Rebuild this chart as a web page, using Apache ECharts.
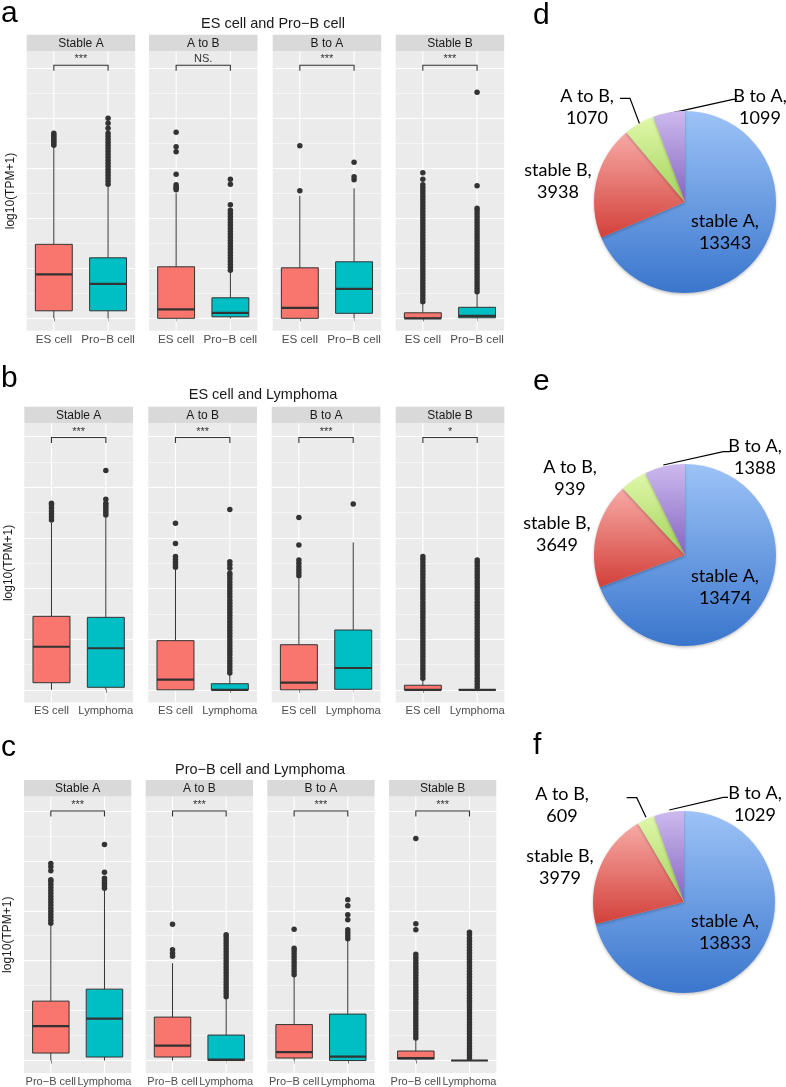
<!DOCTYPE html>
<html><head><meta charset="utf-8">
<script src="https://cdn.jsdelivr.net/npm/echarts@6/dist/echarts.min.js"></script>
<style>html,body{margin:0;padding:0;background:#fff}#chart{width:786px;height:1087px}</style>
</head><body><div id="chart"></div>
<script>
// ---------------- DATA ----------------
const rowTitles = ['ES cell and Pro\u2212B cell', 'ES cell and Lymphoma', 'Pro\u2212B cell and Lymphoma'];
const facets = ['Stable A', 'A to B', 'B to A', 'Stable B'];
const groupsA = ['ES cell', 'Pro\u2212B cell'];
const groupsB = ['ES cell', 'Lymphoma'];
const groupsC = ['Pro\u2212B cell', 'Lymphoma'];
const sigA = ['***', 'NS.', '***', '***'];
const sigB = ['***', '***', '***', '*'];
const sigC = ['***', '***', '***', '***'];
const bracketLevels = [5.06, 4.98, 5.0];
const yAxisName = 'log10(TPM+1)';

// box stats per facet per group: [lower whisker, Q1, median, Q3, upper whisker]
const boxA = [
  [[0, 0.15, 0.88, 1.48, 3.42], [0, 0.15, 0.69, 1.21, 2.65]],
  [[0, 0, 0.18, 1.03, 2.5], [0, 0.03, 0.11, 0.41, 0.93]],
  [[0, 0, 0.21, 1.01, 2.45], [0, 0.1, 0.59, 1.13, 2.6]],
  [[0, 0, 0, 0.11, 0.3], [0, 0.01, 0.05, 0.22, 0.5]]
];
const boxB = [
  [[0, 0.14, 0.85, 1.45, 3.3], [0, 0.05, 0.82, 1.43, 3.4]],
  [[0, 0, 0.2, 0.97, 2.37], [0, 0, 0, 0.12, 0.3]],
  [[0, 0, 0.14, 0.89, 2.2], [0, 0.01, 0.43, 1.18, 2.91]],
  [[0, 0, 0, 0.09, 0.2], [0, 0, 0, 0, 0]]
];
const boxC = [
  [[0, 0.15, 0.69, 1.19, 2.7], [0, 0.07, 0.84, 1.43, 3.4]],
  [[0, 0.07, 0.3, 0.87, 1.95], [0, 0, 0.02, 0.51, 1.25]],
  [[0, 0.05, 0.17, 0.72, 1.69], [0, 0, 0.08, 0.93, 2.4]],
  [[0, 0.03, 0.05, 0.19, 0.42], [0, 0, 0, 0, 0]]
];

// outliers per facet per group
const outA = [
  [[3.46, 3.5, 3.54, 3.58, 3.62, 3.66, 3.7],
   [2.68, 2.74, 2.8, 2.86, 2.92, 2.98, 3.04, 3.1, 3.16, 3.22, 3.28, 3.34, 3.4, 3.46, 3.52, 3.58, 3.64, 3.7, 3.8, 3.9, 4.0]],
  [[2.57, 2.6, 2.63, 2.67, 2.88, 3.33, 3.43, 3.72],
   [0.96, 1.02, 1.08, 1.14, 1.2, 1.26, 1.32, 1.38, 1.44, 1.5, 1.56, 1.62, 1.68, 1.74, 1.8, 1.86, 1.92, 1.98, 2.04, 2.1, 2.16, 2.27, 2.68, 2.78]],
  [[2.55, 3.45],
   [2.77, 2.83, 3.12]],
  [[0.33, 0.39, 0.45, 0.51, 0.57, 0.63, 0.69, 0.75, 0.81, 0.87, 0.93, 0.99, 1.05, 1.11, 1.17, 1.23, 1.29, 1.35, 1.41, 1.47, 1.53, 1.59, 1.65, 1.71, 1.77, 1.83, 1.89, 1.95, 2.01, 2.07, 2.13, 2.19, 2.25, 2.31, 2.37, 2.43, 2.49, 2.55, 2.61, 2.67, 2.78, 2.91],
   [0.53, 0.59, 0.65, 0.71, 0.77, 0.83, 0.89, 0.95, 1.01, 1.07, 1.13, 1.19, 1.25, 1.31, 1.37, 1.43, 1.49, 1.55, 1.61, 1.67, 1.73, 1.79, 1.85, 1.91, 1.97, 2.03, 2.09, 2.15, 2.2, 2.65, 4.52]]
];
const outB = [
  [[3.35, 3.41, 3.47, 3.53, 3.59, 3.65, 3.68],
   [3.45, 3.5, 3.55, 3.6, 3.65, 3.68, 3.76, 4.33]],
  [[2.42, 2.47, 2.52, 2.57, 2.63, 2.89, 3.29],
   [0.33, 0.39, 0.45, 0.51, 0.57, 0.63, 0.69, 0.75, 0.81, 0.87, 0.93, 0.99, 1.05, 1.11, 1.17, 1.23, 1.29, 1.35, 1.41, 1.47, 1.53, 1.59, 1.65, 1.71, 1.77, 1.83, 1.89, 1.95, 2.01, 2.07, 2.13, 2.19, 2.25, 2.3, 2.4, 2.47, 2.53, 3.56]],
  [[2.25, 2.31, 2.37, 2.43, 2.5, 2.56, 2.86, 3.4],
   [3.67]],
  [[0.23, 0.29, 0.35, 0.41, 0.47, 0.53, 0.59, 0.65, 0.71, 0.77, 0.83, 0.89, 0.95, 1.01, 1.07, 1.13, 1.19, 1.25, 1.31, 1.37, 1.43, 1.49, 1.55, 1.61, 1.67, 1.73, 1.79, 1.85, 1.91, 1.97, 2.03, 2.09, 2.15, 2.21, 2.27, 2.33, 2.39, 2.45, 2.51, 2.57, 2.63],
   [0.05, 0.11, 0.17, 0.23, 0.29, 0.35, 0.41, 0.47, 0.53, 0.59, 0.65, 0.71, 0.77, 0.83, 0.89, 0.95, 1.01, 1.07, 1.13, 1.19, 1.25, 1.31, 1.37, 1.43, 1.49, 1.55, 1.61, 1.67, 1.73, 1.79, 1.85, 1.91, 1.97, 2.03, 2.09, 2.15, 2.21, 2.27, 2.33, 2.39, 2.45, 2.51, 2.56]]
];
const outC = [
  [[2.75, 2.81, 2.87, 2.93, 2.99, 3.05, 3.11, 3.17, 3.23, 3.29, 3.35, 3.41, 3.47, 3.53, 3.59, 3.62, 3.8, 3.88, 3.95],
   [3.45, 3.5, 3.55, 3.6, 3.65, 3.77, 4.33]],
  [[2.09, 2.15, 2.22, 2.73],
   [1.28, 1.34, 1.4, 1.46, 1.52, 1.58, 1.64, 1.7, 1.76, 1.82, 1.88, 1.94, 2.0, 2.06, 2.12, 2.18, 2.24, 2.3, 2.36, 2.42, 2.48, 2.52]],
  [[1.72, 1.78, 1.84, 1.9, 1.96, 2.02, 2.08, 2.14, 2.2, 2.25, 2.63],
   [2.44, 2.5, 2.56, 2.62, 2.82, 2.92, 3.1, 3.22]],
  [[0.45, 0.51, 0.57, 0.63, 0.69, 0.75, 0.81, 0.87, 0.93, 0.99, 1.05, 1.11, 1.17, 1.23, 1.29, 1.35, 1.41, 1.47, 1.53, 1.59, 1.65, 1.71, 1.77, 1.83, 1.89, 1.95, 2.01, 2.07, 2.13, 2.62, 2.74, 4.45],
   [0.05, 0.11, 0.17, 0.23, 0.29, 0.35, 0.41, 0.47, 0.53, 0.59, 0.65, 0.71, 0.77, 0.83, 0.89, 0.95, 1.01, 1.07, 1.13, 1.19, 1.25, 1.31, 1.37, 1.43, 1.49, 1.55, 1.61, 1.67, 1.73, 1.79, 1.85, 1.91, 1.97, 2.03, 2.09, 2.15, 2.21, 2.27, 2.33, 2.39, 2.45, 2.52, 2.57]]
];

// pie charts
const pieNames = ['stable A', 'stable B', 'A to B', 'B to A'];
const pieD = [13343, 3938, 1070, 1099];
const pieE = [13474, 3649, 939, 1388];
const pieF = [13833, 3979, 609, 1029];
const panelLetters = ['a', 'b', 'c', 'd', 'e', 'f'];

// ---------------- LAYOUT / STYLE ----------------
const yMin = -0.25;
const rowLayout = [
  {y0: 318.3, unit: 50, max: 5.34, lefts: [26.7, 149, 272.7, 395.7], width: 108.5, titleX: 273, titleY: 24, tickFont: 11.7},
  {y0: 689.8, unit: 50.66, max: 5.26, lefts: [24.3, 148.3, 271.7, 395.7], width: 108.7, titleX: 263, titleY: 395, tickFont: 11.2},
  {y0: 1061, unit: 50, max: 5.29, lefts: [24, 145.7, 267.3, 389], width: 107.3, titleX: 260, titleY: 770, tickFont: 11}
];
const stripH = 16.5;
const fills = ['#F8766D', '#00BFC4'];
const pieCenters = [[685, 202], [685, 555], [684, 902]];
const pieRadius = 91;
// label centres relative to pie centre
const pieLabelOffsets = [
  [[40, 30], [-127, -21], [-98, -95], [75, -95]],
  [[40, 32], [-128, -21], [-115, -77], [70, -97.5]],
  [[41, 30.5], [-124, -35], [-122, -97], [71, -98]]
];
// leader-line bends relative to pie centre (null = no leader line)
const pieLeaders = [
  [null, null, [[-45, -77], [-55, -103.7], [-65, -103.7]], [[-15, -88.7], [48, -102.7], [52, -102.7]]],
  [null, null, null, [[-21.7, -90], [38.3, -103.3], [45, -103.3]]],
  [null, null, [[-38, -84.7], [-47.3, -104.3], [-57.3, -104.3]], [[-14.7, -92], [39.3, -104.7], [44, -104.7]]]
];
const letterPos = [[1, 23], [1, 388], [1, 757], [533, 25], [533, 391], [533, 755]];
const grad = (c0, c1) => ({type: 'linear', x: 0, y: 0, x2: 0, y2: 1, colorStops: [{offset: 0, color: c0}, {offset: 1, color: c1}]});
const pieColors = [grad('#9dc3f7', '#3a76cd'), grad('#f7aaa5', '#d3403a'), grad('#e0f8aa', '#a3d25a'), grad('#cdbaee', '#8465c2')];

const rows = [
  {groups: groupsA, box: boxA, out: outA, sig: sigA},
  {groups: groupsB, box: boxB, out: outB, sig: sigB},
  {groups: groupsC, box: boxC, out: outC, sig: sigC}
];

const grids = [], xAxes = [], yAxes = [], series = [], graphics = [];
const FONT = 'Liberation Sans, Arial, sans-serif';

rows.forEach((row, r) => {
  const L = rowLayout[r];
  const top = L.y0 - L.max * L.unit;
  const height = (L.max - yMin) * L.unit;
  graphics.push({type: 'text', x: L.titleX, y: L.titleY, silent: true,
    style: {text: rowTitles[r], fontSize: 14.5, fontFamily: FONT, fill: '#1a1a1a', align: 'center', verticalAlign: 'middle'}});
  facets.forEach((fname, f) => {
    const gi = r * 4 + f;
    grids.push({left: L.lefts[f], top: top, width: L.width, height: height, show: true, backgroundColor: '#ebebeb', borderWidth: 0, containLabel: false});
    graphics.push({type: 'rect', shape: {x: L.lefts[f], y: top - stripH, width: L.width, height: stripH}, style: {fill: '#d9d9d9'}, silent: true});
    graphics.push({type: 'text', x: L.lefts[f] + L.width / 2, y: top - stripH / 2 + 0.5, silent: true,
      style: {text: fname, fontSize: 12, fontFamily: FONT, fill: '#1a1a1a', align: 'center', verticalAlign: 'middle'}});
    xAxes.push({type: 'category', gridIndex: gi, data: row.groups, boundaryGap: true,
      axisLine: {show: false}, axisTick: {show: true, alignWithLabel: true, length: 3, lineStyle: {color: '#333', width: 1}},
      axisLabel: {color: '#4d4d4d', fontSize: L.tickFont, fontFamily: FONT, margin: 3, interval: 0},
      splitLine: {show: false}});
    yAxes.push({type: 'value', gridIndex: gi, min: yMin, max: L.max, interval: 0.25,
      axisLabel: {show: false}, axisTick: {show: false}, axisLine: {show: false},
      name: f === 0 ? yAxisName : '', nameLocation: 'middle', nameGap: 10,
      nameTextStyle: {fontSize: 12, fontFamily: FONT, color: '#1a1a1a'},
      splitLine: {show: true, showMaxLine: false, lineStyle: {color: ['rgba(0,0,0,0)', '#ffffff', 'rgba(0,0,0,0)', '#f6f6f6'], width: 1.1}}});
    // boxes
    series.push({type: 'custom', xAxisIndex: gi, yAxisIndex: gi, z: 2, silent: true,
      data: row.box[f].map((s, g) => [g].concat(s)),
      encode: {x: 0, y: [1, 2, 3, 4, 5]},
      renderItem: (params, api) => {
        const g = api.value(0);
        const cs = params.coordSys;
        const pLo = api.coord([g, api.value(1)]);
        const pQ1 = api.coord([g, api.value(2)]);
        const pMed = api.coord([g, api.value(3)]);
        const pQ3 = api.coord([g, api.value(4)]);
        const pHi = api.coord([g, api.value(5)]);
        const bw = api.size([1, 0])[0] * 0.68;
        const x = pLo[0];
        return {type: 'group', children: [
          {type: 'line', shape: {x1: x, y1: cs.y, x2: x, y2: cs.y + cs.height}, style: {stroke: '#ffffff', lineWidth: 1.1}},
          {type: 'line', shape: {x1: x, y1: pLo[1], x2: x, y2: pQ1[1]}, style: {stroke: '#333333', lineWidth: 1}},
          {type: 'line', shape: {x1: x, y1: pQ3[1], x2: x, y2: pHi[1]}, style: {stroke: '#333333', lineWidth: 1}},
          {type: 'rect', shape: {x: x - bw / 2, y: pQ3[1], width: bw, height: pQ1[1] - pQ3[1]}, style: {fill: fills[g], stroke: '#333333', lineWidth: 1}},
          {type: 'line', shape: {x1: x - bw / 2, y1: pMed[1], x2: x + bw / 2, y2: pMed[1]}, style: {stroke: '#333333', lineWidth: 2.2}}
        ]};
      }});
    // outliers
    const pts = [];
    row.out[f].forEach((arr, g) => arr.forEach(v => pts.push([g, v])));
    series.push({type: 'scatter', xAxisIndex: gi, yAxisIndex: gi, z: 3, silent: true, symbolSize: 5.5,
      itemStyle: {color: '#333333', opacity: 1}, data: pts});
    // significance bracket
    const sigText = row.sig[f];
    series.push({type: 'custom', xAxisIndex: gi, yAxisIndex: gi, z: 4, silent: true,
      data: [[0, 1, bracketLevels[r]]],
      encode: {x: [0, 1], y: 2},
      renderItem: (params, api) => {
        const yb = api.value(2);
        const p0 = api.coord([api.value(0), yb]);
        const p1 = api.coord([api.value(1), yb]);
        const d = api.coord([api.value(0), yb - 0.11]);
        return {type: 'group', children: [
          {type: 'polyline', shape: {points: [[p0[0], d[1]], [p0[0], p0[1]], [p1[0], p1[1]], [p1[0], d[1]]]}, style: {stroke: '#333333', lineWidth: 1.1, fill: null}},
          {type: 'text', x: (p0[0] + p1[0]) / 2, y: p0[1] - 0.5, style: {text: sigText, fontSize: 11, fontFamily: FONT, fill: '#333333', align: 'center', verticalAlign: 'bottom'}}
        ]};
      }});
  });
});

[pieD, pieE, pieF].forEach((vals, k) => {
  const c = pieCenters[k];
  const offs = pieLabelOffsets[k];
  const leads = pieLeaders[k];
  series.push({type: 'pie', center: c, radius: pieRadius, startAngle: 90, clockwise: true, silent: true,
    avoidLabelOverlap: false, minShowLabelAngle: 0,
    itemStyle: {borderWidth: 0, shadowBlur: 3, shadowColor: 'rgba(0,0,0,0.25)', shadowOffsetY: 1.5},
    label: {show: true, position: 'outside', formatter: '{b},\n{c}', color: '#000', fontSize: 18, lineHeight: 22, fontFamily: 'Lato, Open Sans, sans-serif'},
    labelLine: {show: true, length: 8, length2: 10, smooth: false, lineStyle: {color: '#000', width: 1.2}},
    labelLayout: (params) => {
      const i = params.dataIndex;
      const o = offs[i];
      const res = {x: c[0] + o[0], y: c[1] + o[1], align: 'center', verticalAlign: 'middle'};
      if (leads[i]) res.labelLinePoints = leads[i].map(p => [c[0] + p[0], c[1] + p[1]]);
      return res;
    },
    data: pieNames.map((n, i) => ({name: n, value: vals[i], itemStyle: {color: pieColors[i]}, labelLine: {show: !!leads[i]}}))
  });
});

panelLetters.forEach((t, i) => {
  graphics.push({type: 'text', x: letterPos[i][0], y: letterPos[i][1] + 6, silent: true,
    style: {text: t, fontSize: 30, fontFamily: FONT, fill: '#000', align: 'left', verticalAlign: 'bottom'}});
});

const chart = echarts.init(document.getElementById('chart'), null, {renderer: 'canvas'});
chart.setOption({
  animation: false,
  backgroundColor: '#ffffff',
  grid: grids, xAxis: xAxes, yAxis: yAxes, series: series,
  graphic: {elements: graphics}
});
</script></body></html>
